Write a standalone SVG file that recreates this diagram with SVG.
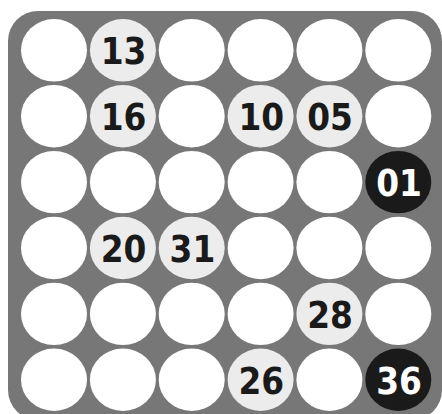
<svg xmlns="http://www.w3.org/2000/svg" width="442" height="414" viewBox="0 0 442 414">
<style>
ellipse{rx:33px;ry:31.2px}
.e{fill:#ffffff}
.l{fill:#ececec}
.d{fill:#1a1a1a}
text{font-family:"DejaVu Sans Condensed","DejaVu Sans",sans-serif;font-stretch:condensed;font-weight:bold;font-size:36.5px;text-anchor:middle}
.tl{fill:#1a1a1a}
.td{fill:#ffffff}
</style>
<rect x="8" y="11" width="434" height="409" rx="30" ry="30" fill="#777777"/>
<g id="connectors"></g>
<g id="r1">
<ellipse id="c11" class="e" cx="54" cy="50.3" rx="33" ry="31.2"/>
<g id="c12"><ellipse class="l" cx="122.9" cy="50.3" rx="33" ry="31.2"/><text class="tl" x="123.6" y="64.3">13</text></g>
<ellipse id="c13" class="e" cx="191.7" cy="50.3" rx="33" ry="31.2"/>
<ellipse id="c14" class="e" cx="260.6" cy="50.3" rx="33" ry="31.2"/>
<ellipse id="c15" class="e" cx="329.4" cy="50.3" rx="33" ry="31.2"/>
<ellipse id="c16" class="e" cx="398.3" cy="50.3" rx="33" ry="31.2"/>
</g>
<g id="r2">
<ellipse id="c21" class="e" cx="54" cy="116.2" rx="33" ry="31.2"/>
<g id="c22"><ellipse class="l" cx="122.9" cy="116.2" rx="33" ry="31.2"/><text class="tl" x="123.6" y="130.2">16</text></g>
<ellipse id="c23" class="e" cx="191.7" cy="116.2" rx="33" ry="31.2"/>
<g id="c24"><ellipse class="l" cx="260.6" cy="116.2" rx="33" ry="31.2"/><text class="tl" x="261.3" y="130.2">10</text></g>
<g id="c25"><ellipse class="l" cx="329.4" cy="116.2" rx="33" ry="31.2"/><text class="tl" x="330.1" y="130.2">05</text></g>
<ellipse id="c26" class="e" cx="398.3" cy="116.2" rx="33" ry="31.2"/>
</g>
<g id="r3">
<ellipse id="c31" class="e" cx="54" cy="182.1" rx="33" ry="31.2"/>
<ellipse id="c32" class="e" cx="122.9" cy="182.1" rx="33" ry="31.2"/>
<ellipse id="c33" class="e" cx="191.7" cy="182.1" rx="33" ry="31.2"/>
<ellipse id="c34" class="e" cx="260.6" cy="182.1" rx="33" ry="31.2"/>
<ellipse id="c35" class="e" cx="329.4" cy="182.1" rx="33" ry="31.2"/>
<g id="c36"><ellipse class="d" cx="398.3" cy="182.1" rx="33" ry="31.2"/><text class="td" x="399" y="196.1">01</text></g>
</g>
<g id="r4">
<ellipse id="c41" class="e" cx="54" cy="248" rx="33" ry="31.2"/>
<g id="c42"><ellipse class="l" cx="122.9" cy="248" rx="33" ry="31.2"/><text class="tl" x="123.6" y="262">20</text></g>
<g id="c43"><ellipse class="l" cx="191.7" cy="248" rx="33" ry="31.2"/><text class="tl" x="192.4" y="262">31</text></g>
<ellipse id="c44" class="e" cx="260.6" cy="248" rx="33" ry="31.2"/>
<ellipse id="c45" class="e" cx="329.4" cy="248" rx="33" ry="31.2"/>
<ellipse id="c46" class="e" cx="398.3" cy="248" rx="33" ry="31.2"/>
</g>
<g id="r5">
<ellipse id="c51" class="e" cx="54" cy="313.9" rx="33" ry="31.2"/>
<ellipse id="c52" class="e" cx="122.9" cy="313.9" rx="33" ry="31.2"/>
<ellipse id="c53" class="e" cx="191.7" cy="313.9" rx="33" ry="31.2"/>
<ellipse id="c54" class="e" cx="260.6" cy="313.9" rx="33" ry="31.2"/>
<g id="c55"><ellipse class="l" cx="329.4" cy="313.9" rx="33" ry="31.2"/><text class="tl" x="330.1" y="327.9">28</text></g>
<ellipse id="c56" class="e" cx="398.3" cy="313.9" rx="33" ry="31.2"/>
</g>
<g id="r6">
<ellipse id="c61" class="e" cx="54" cy="379.8" rx="33" ry="31.2"/>
<ellipse id="c62" class="e" cx="122.9" cy="379.8" rx="33" ry="31.2"/>
<ellipse id="c63" class="e" cx="191.7" cy="379.8" rx="33" ry="31.2"/>
<g id="c64"><ellipse class="l" cx="260.6" cy="379.8" rx="33" ry="31.2"/><text class="tl" x="261.3" y="393.8">26</text></g>
<ellipse id="c65" class="e" cx="329.4" cy="379.8" rx="33" ry="31.2"/>
<g id="c66"><ellipse class="d" cx="398.3" cy="379.8" rx="33" ry="31.2"/><text class="td" x="399" y="393.8">36</text></g>
</g>
</svg>
